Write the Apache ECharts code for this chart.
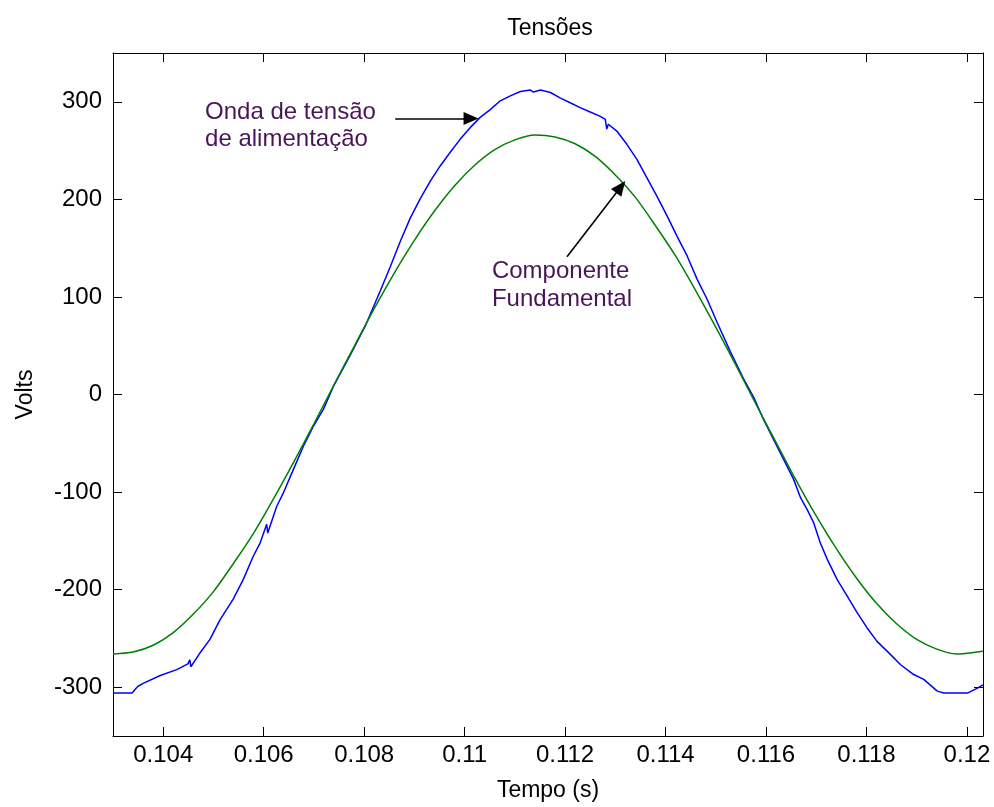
<!DOCTYPE html>
<html><head><meta charset="utf-8">
<script src="https://cdn.jsdelivr.net/npm/echarts@6/dist/echarts.min.js"></script>
<style>html,body{margin:0;padding:0;background:#fff}#c{width:994px;height:807px}</style>
</head><body><div id="c"></div>
<script>
const xTickValues = [0.104,0.106,0.108,0.11,0.112,0.114,0.116,0.118,0.12];
const yTickValues = [-300,-200,-100,0,100,200,300];

// Componente Fundamental (green)
const greenT = [0.1030,0.1034,0.1038,0.1042,0.1046,0.1050,0.1054,0.1058,0.1062,0.1066,0.1070,0.1074,0.1078,0.1082,0.1086,0.1090,0.1094,0.1098,0.1102,0.1106,0.1110,0.1114,0.1118,0.1122,0.1126,0.1130,0.1134,0.1138,0.1142,0.1146,0.1150,0.1154,0.1158,0.1162,0.1166,0.1170,0.1174,0.1178,0.1182,0.1186,0.1190,0.1194,0.1198,0.1202,0.12032];
const greenV = [-266,-264,-257,-244,-225,-202,-173,-142,-106.5,-69,-30,10,49,88,124.5,158,188,214,235,251,261,266,264,257,244,225,202,173,142,106.5,69,30,-10,-49,-88,-124.5,-158,-188,-214,-235,-251,-261,-266,-264,-263];

// Onda de tensão de alimentação (blue)
const blueT = [0.10300,0.10338,0.10346,0.10350,0.10360,0.10394,0.10427,0.10449,0.10453,0.10455,0.10473,0.10493,0.10513,0.10539,0.10559,0.10579,0.10593,0.10606,0.10608,0.10626,0.10639,0.10659,0.10679,0.10699,0.10719,0.10739,0.10772,0.10802,0.10832,0.10852,0.10872,0.10892,0.10912,0.10932,0.10951,0.10971,0.10991,0.11011,0.11031,0.11051,0.11071,0.11091,0.11111,0.11131,0.11137,0.11151,0.11171,0.11190,0.11210,0.11230,0.11250,0.11270,0.11280,0.11283,0.11286,0.11303,0.11323,0.11343,0.11363,0.11383,0.11403,0.11423,0.11443,0.11463,0.11483,0.11503,0.11529,0.11556,0.11576,0.11595,0.11615,0.11635,0.11655,0.11669,0.11682,0.11695,0.11708,0.11722,0.11742,0.11762,0.11782,0.11801,0.11821,0.11841,0.11868,0.11894,0.11914,0.11941,0.11954,0.12001,0.12021,0.12032];
const blueV = [-306,-306,-301,-299,-296,-288,-282,-276,-272,-279,-265,-251,-231,-210,-190,-166,-152,-133,-142,-114.5,-101,-77,-53,-32.5,-15,8.5,40,70,106,131,157,181,201,219,234,248,261.5,273.5,284,292,301,306,310.5,312,310,312,309.5,304,299,294,289.5,285,282,272,277,270,256.4,241,222,203,183,162,142,118,97.4,73.5,44,15.4,-3.4,-25.6,-46,-66.5,-87,-106,-118,-131.6,-152,-169,-190,-207,-224,-239,-253,-263,-277,-287,-292,-304,-306,-306,-301,-297.5];

const titleText = 'Tensões';
const xName = 'Tempo (s)';
const yName = 'Volts';
const note1 = 'Onda de tensão\nde alimentação';
const note2 = 'Componente\nFundamental';
// annotation anchors in data space
const note1Pos = [0.104833, 275.2];
const note2Pos = [0.110544, 112];
const arrow1 = [[0.108618, 282.8], [0.110128, 282.8]];
const arrow2 = [[0.112038, 141.2], [0.113108, 212.7]];

const FONT = "'Liberation Sans', Arial, sans-serif";
const zip = (a, b) => a.map((v, i) => [v, b[i]]);

const chart = echarts.init(document.getElementById('c'), null, {renderer: 'canvas'});
const axisCommon = {
  type: 'value',
  axisLine: {show: true, onZero: false, lineStyle: {color: '#000', width: 1}},
  splitLine: {show: false},
};
const option = {
  animation: false,
  backgroundColor: '#fff',
  title: {
    text: titleText, left: 545, top: 12, textAlign: 'center',
    textStyle: {fontFamily: FONT, fontSize: 23, fontWeight: 'normal', color: '#000'}
  },
  grid: {left: 113, right: 11, top: 53, bottom: 70},
  xAxis: [
    Object.assign({}, axisCommon, {
      min: 0.103, max: 0.12032, position: 'bottom',
      name: xName, nameLocation: 'middle', nameGap: 43,
      nameTextStyle: {fontFamily: FONT, fontSize: 23, color: '#000'},
      axisTick: {show: true, inside: true, length: 9, customValues: xTickValues, lineStyle: {color: '#000'}},
      axisLabel: {show: true, customValues: xTickValues, margin: 7, fontFamily: FONT, fontSize: 24, color: '#000',
        formatter: v => String(parseFloat(Number(v).toFixed(3)))}
    }),
    Object.assign({}, axisCommon, {
      min: 0.103, max: 0.12032, position: 'top',
      axisTick: {show: true, inside: true, length: 9, customValues: xTickValues, lineStyle: {color: '#000'}},
      axisLabel: {show: false}
    })
  ],
  yAxis: [
    Object.assign({}, axisCommon, {
      min: -350, max: 350, position: 'left',
      name: yName, nameLocation: 'middle', nameGap: 76, nameRotate: 90,
      nameTextStyle: {fontFamily: FONT, fontSize: 23, color: '#000'},
      axisTick: {show: true, inside: true, length: 9, customValues: yTickValues, lineStyle: {color: '#000'}},
      axisLabel: {show: true, customValues: yTickValues, margin: 11, fontFamily: FONT, fontSize: 24, color: '#000'}
    }),
    Object.assign({}, axisCommon, {
      min: -350, max: 350, position: 'right',
      axisTick: {show: true, inside: true, length: 9, customValues: yTickValues, lineStyle: {color: '#000'}},
      axisLabel: {show: false}
    })
  ],
  series: [
    {
      name: 'Onda de tensão de alimentação', type: 'line', data: zip(blueT, blueV),
      showSymbol: false, symbol: 'none', lineStyle: {color: '#0000ff', width: 1.5}, z: 2
    },
    {
      name: 'Componente Fundamental', type: 'line', data: zip(greenT, greenV),
      showSymbol: false, symbol: 'none', smooth: 0.3, lineStyle: {color: '#008000', width: 1.5}, z: 3,
      markLine: {
        silent: true, symbol: ['none', 'triangle'], symbolSize: [13, 15],
        label: {show: false}, emphasis: {disabled: true},
        lineStyle: {color: '#000', width: 1.6, type: 'solid'},
        data: [
          [{coord: arrow1[0]}, {coord: arrow1[1]}],
          [{coord: arrow2[0]}, {coord: arrow2[1]}]
        ]
      }
    }
  ]
};
chart.setOption(option);

const p1 = chart.convertToPixel({gridIndex: 0}, note1Pos);
const p2 = chart.convertToPixel({gridIndex: 0}, note2Pos);
const noteStyle = {fontFamily: FONT, fontSize: 24, fill: '#4a1558', lineHeight: 27, textAlign: 'left', textVerticalAlign: 'middle'};
chart.setOption({
  graphic: [
    {type: 'text', x: p1[0], y: p1[1], silent: true, style: Object.assign({text: note1}, noteStyle)},
    {type: 'text', x: p2[0], y: p2[1], silent: true, style: Object.assign({text: note2}, noteStyle, {lineHeight: 28})}
  ]
});
</script>
</body></html>
